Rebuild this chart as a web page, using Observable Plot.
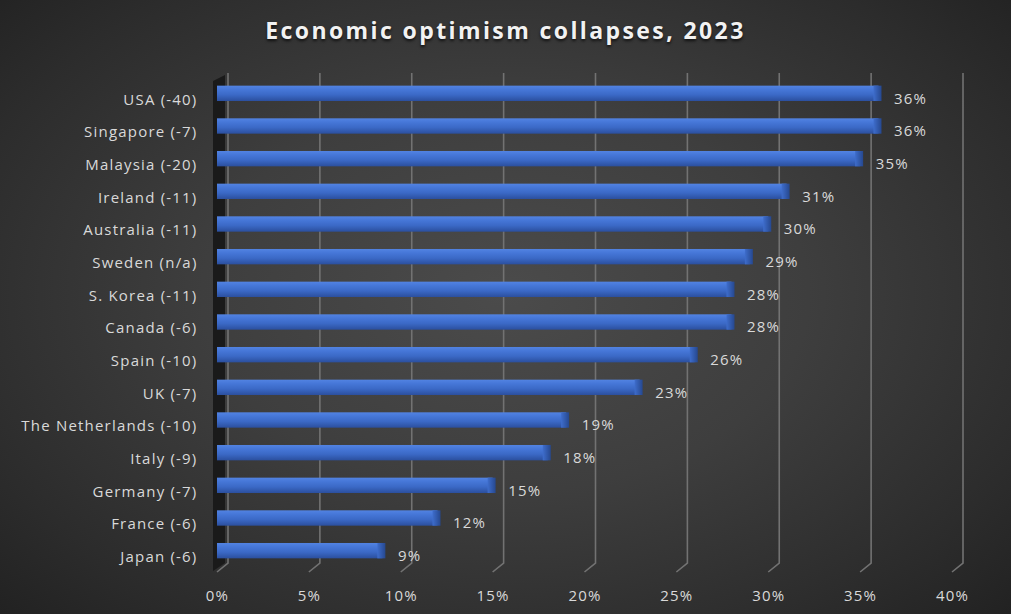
<!DOCTYPE html>
<html>
<head>
<meta charset="utf-8">
<script src="https://cdn.jsdelivr.net/npm/d3@7"></script>
<script src="https://cdn.jsdelivr.net/npm/@observablehq/plot@0.6"></script>
<style>
  html, body { margin: 0; padding: 0; background: #2a2a2a; }
  #wrap {
    width: 1011px; height: 614px; position: relative; overflow: hidden;
    background: radial-gradient(ellipse 75% 80% at 50% 48%, #4b4b4b 0%, #3e3e3e 40%, #2c2c2c 75%, #1e1e1e 100%);
    font-family: "Open Sans", sans-serif;
  }
  #title {
    height: 56px; box-sizing: border-box; padding-top: 15px;
    text-align: center; color: #f2f2f2; font-weight: 700; font-size: 23px;
    letter-spacing: 2.4px; line-height: 30px;
    text-shadow: 0 2px 3px rgba(0,0,0,0.7);
  }
  svg { display: block; }
  svg text { letter-spacing: 1.2px; }
</style>
</head>
<body>
<div id="wrap">
  <div id="title">Economic optimism collapses, 2023</div>
  <div id="chart"></div>
</div>
<script>
const countries = ["USA (-40)", "Singapore (-7)", "Malaysia (-20)", "Ireland (-11)", "Australia (-11)",
  "Sweden (n/a)", "S. Korea (-11)", "Canada (-6)", "Spain (-10)", "UK (-7)",
  "The Netherlands (-10)", "Italy (-9)", "Germany (-7)", "France (-6)", "Japan (-6)"];
const optimism = [36, 36, 35, 31, 30, 29, 28, 28, 26, 23, 19, 18, 15, 12, 9];
const xTicks = [0, 5, 10, 15, 20, 25, 30, 35, 40];

const data = countries.map((c, i) => ({country: c, value: optimism[i]}));

function backdrop(index, scales, values, dims) {
  const x = scales.x;
  const top = dims.marginTop - 4;
  const bottom = dims.height - dims.marginBottom - 4;
  const g = d3.create("svg:g");
  const defs = g.append("defs");
  const lg = defs.append("linearGradient").attr("id", "barGrad")
    .attr("x1", 0).attr("y1", 0).attr("x2", 0).attr("y2", 1);
  lg.append("stop").attr("offset", "0%").attr("stop-color", "#5283e2");
  lg.append("stop").attr("offset", "25%").attr("stop-color", "#4677d8");
  lg.append("stop").attr("offset", "60%").attr("stop-color", "#3b69c6");
  lg.append("stop").attr("offset", "100%").attr("stop-color", "#2b4f9e");
  const cg = defs.append("linearGradient").attr("id", "capGrad")
    .attr("x1", 0).attr("y1", 0).attr("x2", 1).attr("y2", 0);
  cg.append("stop").attr("offset", "0%").attr("stop-color", "#3e6dcc");
  cg.append("stop").attr("offset", "100%").attr("stop-color", "#26488f");
  // left wall
  g.append("path")
    .attr("d", `M${x(0) - 4},${top + 8} L${x(0) + 8},${top + 2} L${x(0) + 8},${bottom} L${x(0) - 4},${bottom + 8} Z`)
    .attr("fill", "#1a1a1a");
  // gridlines on back wall with slanted floor segment
  for (const t of xTicks) {
    g.append("path")
      .attr("d", `M${x(t) + 11},${top} L${x(t) + 11},${bottom} L${x(t)},${bottom + 9}`)
      .attr("fill", "none").attr("stroke", "#727272").attr("stroke-width", 1.6);
  }
  return g.node();
}

const chart = Plot.plot({
  width: 1011,
  height: 558,
  marginTop: 21,
  marginBottom: 47,
  marginLeft: 217,
  marginRight: 59,
  style: {background: "transparent", fontFamily: "Open Sans, sans-serif", fontSize: "15px", color: "#d9d9d9"},
  x: {domain: [0, 40], ticks: xTicks, tickFormat: d => d + "%", label: null},
  y: {domain: countries, paddingInner: 0.53, paddingOuter: 0.265, round: false, label: null},
  marks: [
    backdrop,
    Plot.barX(data, {y: "country", x1: 0, x2: "value", fill: "url(#barGrad)"}),
    Plot.barX(data, {y: "country", x1: "value", x2: "value", insetLeft: -5, insetRight: -3, fill: "url(#capGrad)"}),
    Plot.text(data, {y: "country", x: "value", text: d => d.value + "%", dx: 15, dy: 5, textAnchor: "start", fill: "#d9d9d9", fontSize: 15}),
    Plot.axisY({tickSize: 0, tickPadding: 20, dy: 6, fontSize: 15, fill: "#d9d9d9"}),
    Plot.axisX({ticks: xTicks, tickFormat: d => d + "%", tickSize: 0, tickPadding: 23, fontSize: 15, fill: "#d9d9d9"})
  ]
});
document.getElementById("chart").appendChild(chart);
</script>
</body>
</html>
